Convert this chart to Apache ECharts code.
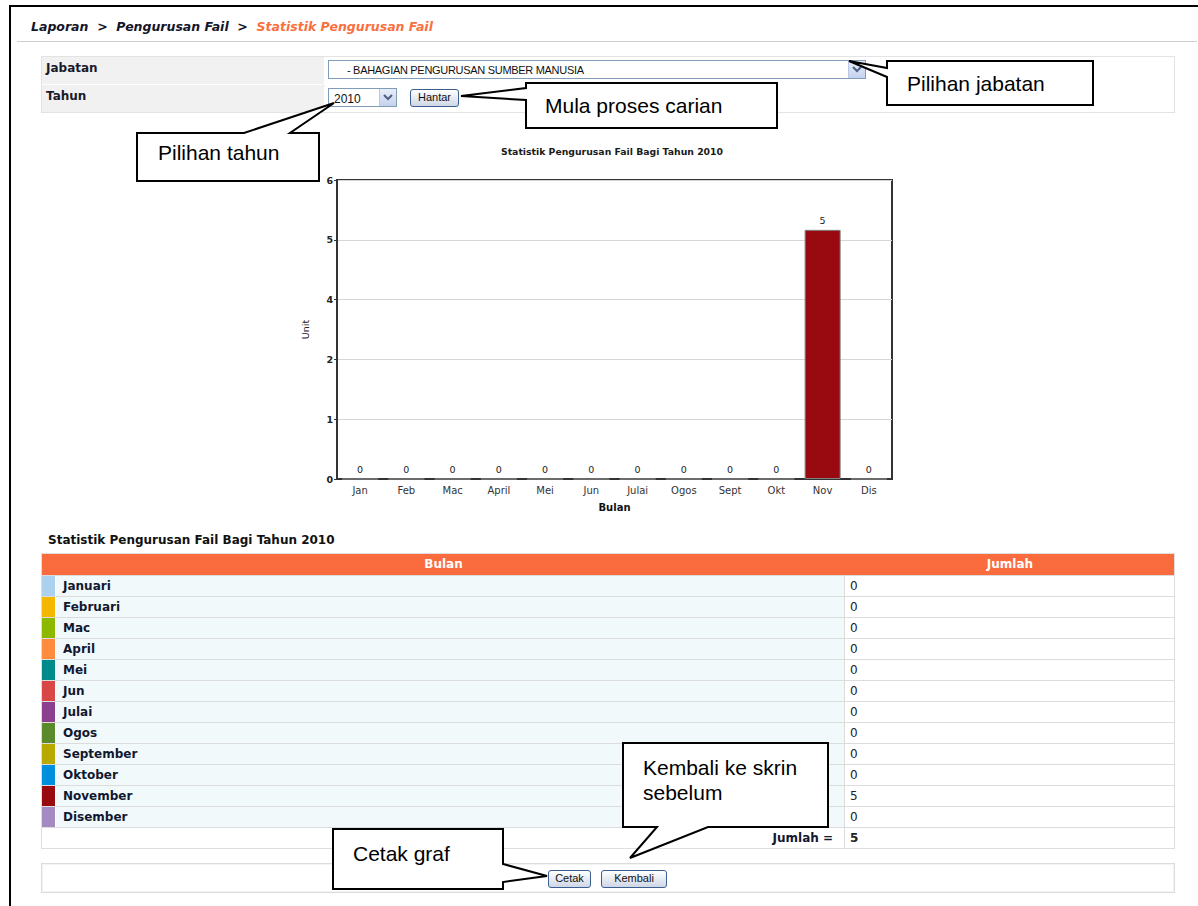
<!DOCTYPE html>
<html>
<head>
<meta charset="utf-8">
<title>Statistik Pengurusan Fail</title>
<script src="https://cdn.jsdelivr.net/npm/echarts@6/dist/echarts.min.js"></script>
<style>
  html, body { margin: 0; padding: 0; background: #fff; }
  body { width: 1198px; height: 906px; position: relative; overflow: hidden; font-family: "DejaVu Sans", Verdana, sans-serif; }
  .abs { position: absolute; }
  .frame-top { left: 9px; top: 5px; width: 1189px; height: 2px; background: #000; }
  .frame-left { left: 9px; top: 5px; width: 2px; height: 901px; background: #000; }
  .crumb { left: 31px; top: 19px; font-size: 12.5px; font-weight: bold; font-style: italic; color: #15152a; white-space: pre; }
  .crumb .cur { color: #f9703f; }
  .sep { left: 17px; top: 41px; width: 1180px; height: 1px; background: #cfcfcf; }

  .form { left: 41px; top: 56px; width: 1134px; height: 57px; border: 1px solid #e3e3e3; box-sizing: border-box; }
  .frow { position: absolute; left: 0; width: 1132px; height: 28px; }
  .frow .lab { position: absolute; left: 0; top: 0; width: 282px; height: 27px; background: #f1f1f1; font-size: 12px; font-weight: bold; color: #1a1a2a; padding: 4px 0 0 4px; box-sizing: border-box; }
  .frow .val { position: absolute; left: 283px; top: 0; right: 0; height: 27px; background: #fff; }
  .frow.r1 { top: 0; border-bottom: 1px solid #e0e0e0; }
  .frow.r2 { top: 28px; }

  .select { border: 1px solid #7f9db9; background: #fff; box-sizing: border-box; font-family: "Liberation Sans", Arial, sans-serif; font-size: 11px; color: #111; }
  .select .txt { position: absolute; top: 3px; white-space: pre; }
  .select .arr { position: absolute; right: 0; top: 0; width: 17px; height: 17px; background: linear-gradient(#e8edf8, #c5d2ee); border-left: 1px solid #b9c8e6; box-sizing: border-box; }
  .btn { border: 1px solid #3c5f91; border-radius: 3px; background: linear-gradient(#ffffff, #dde3ee 70%, #cfd6e4); box-sizing: border-box; font-family: "Liberation Sans", Arial, sans-serif; font-size: 11px; color: #111; text-align: center; line-height: 15px; }

  #chart { left: 292px; top: 140px; width: 640px; height: 380px; }

  .ttitle { left: 48px; top: 533px; font-size: 12px; font-weight: bold; color: #111; white-space: pre; }
  .tbl { left: 41px; top: 553px; width: 1134px; border: 1px solid #dedede; box-sizing: border-box; }
  .thead { position: relative; height: 21px; background: #fa6c3d; color: #fff; font-size: 12px; font-weight: bold; }
  .thead div { position: absolute; top: 0; height: 21px; line-height: 21px; text-align: center; }
  .trow { position: relative; height: 21px; border-top: 1px solid #dcdcdc; box-sizing: border-box; font-size: 12px; }
  .trow .sw { position: absolute; left: 0; top: 0; width: 13px; height: 20px; }
  .trow .nm { position: absolute; left: 14px; top: 0; width: 789px; height: 20px; background: #f2f9fb; border-right: 1px solid #dcdcdc; box-sizing: border-box; font-weight: bold; color: #111830; padding-left: 7px; line-height: 20px; }
  .trow .vl { position: absolute; left: 804px; top: 0; right: 0; height: 20px; background: #fff; color: #222; padding-left: 4px; line-height: 20px; }
  .trow.total .nm { background: #fff; text-align: right; padding-right: 11px; }
  .trow.total .vl { font-weight: bold; }

  .bar { left: 41px; top: 863px; width: 1134px; height: 30px; border: 1px solid #dcdcdc; box-sizing: border-box; box-shadow: inset 0 0 0 1px #f3f3f3; }

  svg.notes { position: absolute; left: 0; top: 0; }
  svg.notes path { fill: #fff; stroke: #000; stroke-width: 2; stroke-linejoin: miter; }
  svg.notes text { font-family: "Liberation Sans", Arial, sans-serif; font-size: 21px; fill: #000; }
</style>
</head>
<body>
<div class="abs frame-top"></div>
<div class="abs frame-left"></div>

<div class="abs crumb">Laporan  &gt;  Pengurusan Fail  &gt;  <span class="cur">Statistik Pengurusan Fail</span></div>
<div class="abs sep"></div>

<!-- search form -->
<div class="abs form">
  <div class="frow r1"><div class="lab">Jabatan</div><div class="val"></div></div>
  <div class="frow r2"><div class="lab">Tahun</div><div class="val"></div></div>
</div>
<div class="abs select" style="left:328px;top:60px;width:538px;height:19px;">
  <span class="txt" style="left:18px;letter-spacing:-0.3px;">- BAHAGIAN PENGURUSAN SUMBER MANUSIA</span>
  <div class="arr"><svg width="16" height="17"><path d="M4 6 L8 10 L12 6" fill="none" stroke="#4d6185" stroke-width="2"/></svg></div>
</div>
<div class="abs select" style="left:328px;top:88px;width:69px;height:19px;">
  <span class="txt" style="left:5px;font-size:12px;">2010</span>
  <div class="arr"><svg width="16" height="17"><path d="M4 6 L8 10 L12 6" fill="none" stroke="#4d6185" stroke-width="2"/></svg></div>
</div>
<div class="abs btn" style="left:410px;top:89px;width:49px;height:18px;">Hantar</div>

<!-- bar chart -->
<div id="chart" class="abs"></div>

<!-- monthly summary table -->
<div class="abs ttitle" id="ttitle"></div>
<div class="abs tbl" id="tbl"></div>

<!-- action buttons -->
<div class="abs bar"></div>
<div class="abs btn" style="left:548px;top:870px;width:43px;height:18px;">Cetak</div>
<div class="abs btn" style="left:601px;top:870px;width:66px;height:18px;">Kembali</div>

<!-- callout notes -->
<svg class="notes" width="1198" height="906">
  <path d="M887,61 L1093,61 L1093,105 L887,105 L887,77 L849,61 L887,68 Z"/>
  <text x="907" y="91">Pilihan jabatan</text>

  <path d="M526,83 L777,83 L777,128 L526,128 L526,100 L461,96 L526,88 Z"/>
  <text x="545" y="113">Mula proses carian</text>

  <path d="M137,133 L244,133 L334,103 L290,133 L319,133 L319,181 L137,181 Z"/>
  <text x="158" y="160">Pilihan tahun</text>

  <path d="M623,743 L828,743 L828,827 L708,827 L630,858 L657,827 L623,827 Z"/>
  <text x="643" y="775">Kembali ke skrin</text>
  <text x="643" y="800">sebelum</text>

  <path d="M333,829 L503,829 L503,864 L547,876 L503,882 L503,889 L333,889 Z"/>
  <text x="353" y="861">Cetak graf</text>
</svg>

<script>
// Monthly file-management counts for 2010
const reportYear = 2010;
const chartTitle = 'Statistik Pengurusan Fail Bagi Tahun ' + reportYear;
const monthShort = ['Jan', 'Feb', 'Mac', 'April', 'Mei', 'Jun', 'Julai', 'Ogos', 'Sept', 'Okt', 'Nov', 'Dis'];
const monthFull = ['Januari', 'Februari', 'Mac', 'April', 'Mei', 'Jun', 'Julai', 'Ogos', 'September', 'Oktober', 'November', 'Disember'];
const fileCounts = [0, 0, 0, 0, 0, 0, 0, 0, 0, 0, 5, 0];

// one colour per month, shared by the bars and the table swatches
const monthColors = ['#abd1ef', '#f5b800', '#8cb800', '#ff8b3f', '#008b8b', '#d94646', '#8b3f8f', '#5a8a2c', '#b7a900', '#008fdc', '#990a10', '#a58ac2'];

// ---- summary table ----
document.getElementById('ttitle').textContent = chartTitle;
const tbl = document.getElementById('tbl');
let html = '<div class="thead"><div style="left:0;width:803px;">Bulan</div><div style="left:804px;right:0;">Jumlah</div></div>';
monthFull.forEach((m, i) => {
  html += '<div class="trow"><div class="sw" style="background:' + monthColors[i] + '"></div>' +
          '<div class="nm">' + m + '</div><div class="vl">' + fileCounts[i] + '</div></div>';
});
const total = fileCounts.reduce((a, b) => a + b, 0);
html += '<div class="trow total"><div class="nm">Jumlah =</div><div class="vl">' + total + '</div></div>';
tbl.innerHTML = html;

// ---- bar chart ----
const chart = echarts.init(document.getElementById('chart'), null, { renderer: 'svg' });
chart.setOption({
  animation: false,
  textStyle: { fontFamily: 'DejaVu Sans' },
  title: {
    text: chartTitle,
    left: 'center',
    top: 2,
    textStyle: { fontFamily: 'DejaVu Sans', fontSize: 9.3, fontWeight: 'bold', color: '#1a1a1a' }
  },
  grid: {
    left: 44, top: 40, width: 556, height: 299,
    show: true, borderColor: '#333', borderWidth: 2, backgroundColor: '#fff'
  },
  xAxis: {
    type: 'category',
    data: monthShort,
    name: 'Bulan',
    nameLocation: 'middle',
    nameGap: 23,
    nameTextStyle: { fontFamily: 'DejaVu Sans', fontWeight: 'bold', fontSize: 10, color: '#111' },
    axisLine: { show: true, lineStyle: { color: '#333', width: 2 } },
    axisTick: { show: false },
    axisLabel: { fontFamily: 'DejaVu Sans', fontSize: 10, color: '#333', margin: 6 }
  },
  yAxis: {
    type: 'value',
    min: 0,
    max: 6,
    interval: 1.2,
    name: 'Unit',
    nameLocation: 'middle',
    nameGap: 27,
    nameRotate: 90,
    nameTextStyle: { fontFamily: 'DejaVu Sans', fontSize: 9.5, color: '#222' },
    axisLine: { show: true, lineStyle: { color: '#333', width: 2 } },
    axisTick: { show: true, length: 3, lineStyle: { color: '#333' } },
    axisLabel: {
      formatter: v => String(Math.round(v)),
      fontFamily: 'DejaVu Sans', fontWeight: 'bold', fontSize: 9.5, color: '#222', margin: 4
    },
    splitLine: { show: true, lineStyle: { color: '#d6d6d6', width: 1 } }
  },
  series: [{
    type: 'bar',
    data: fileCounts.map((v, i) => ({ value: v, itemStyle: { color: monthColors[i] } })),
    barWidth: 36,
    itemStyle: { borderColor: '#808080', borderWidth: 1 },
    label: { show: true, position: 'top', distance: 4, fontFamily: 'DejaVu Sans', fontSize: 9.5, color: '#222' }
  }]
});
</script>
</body>
</html>
